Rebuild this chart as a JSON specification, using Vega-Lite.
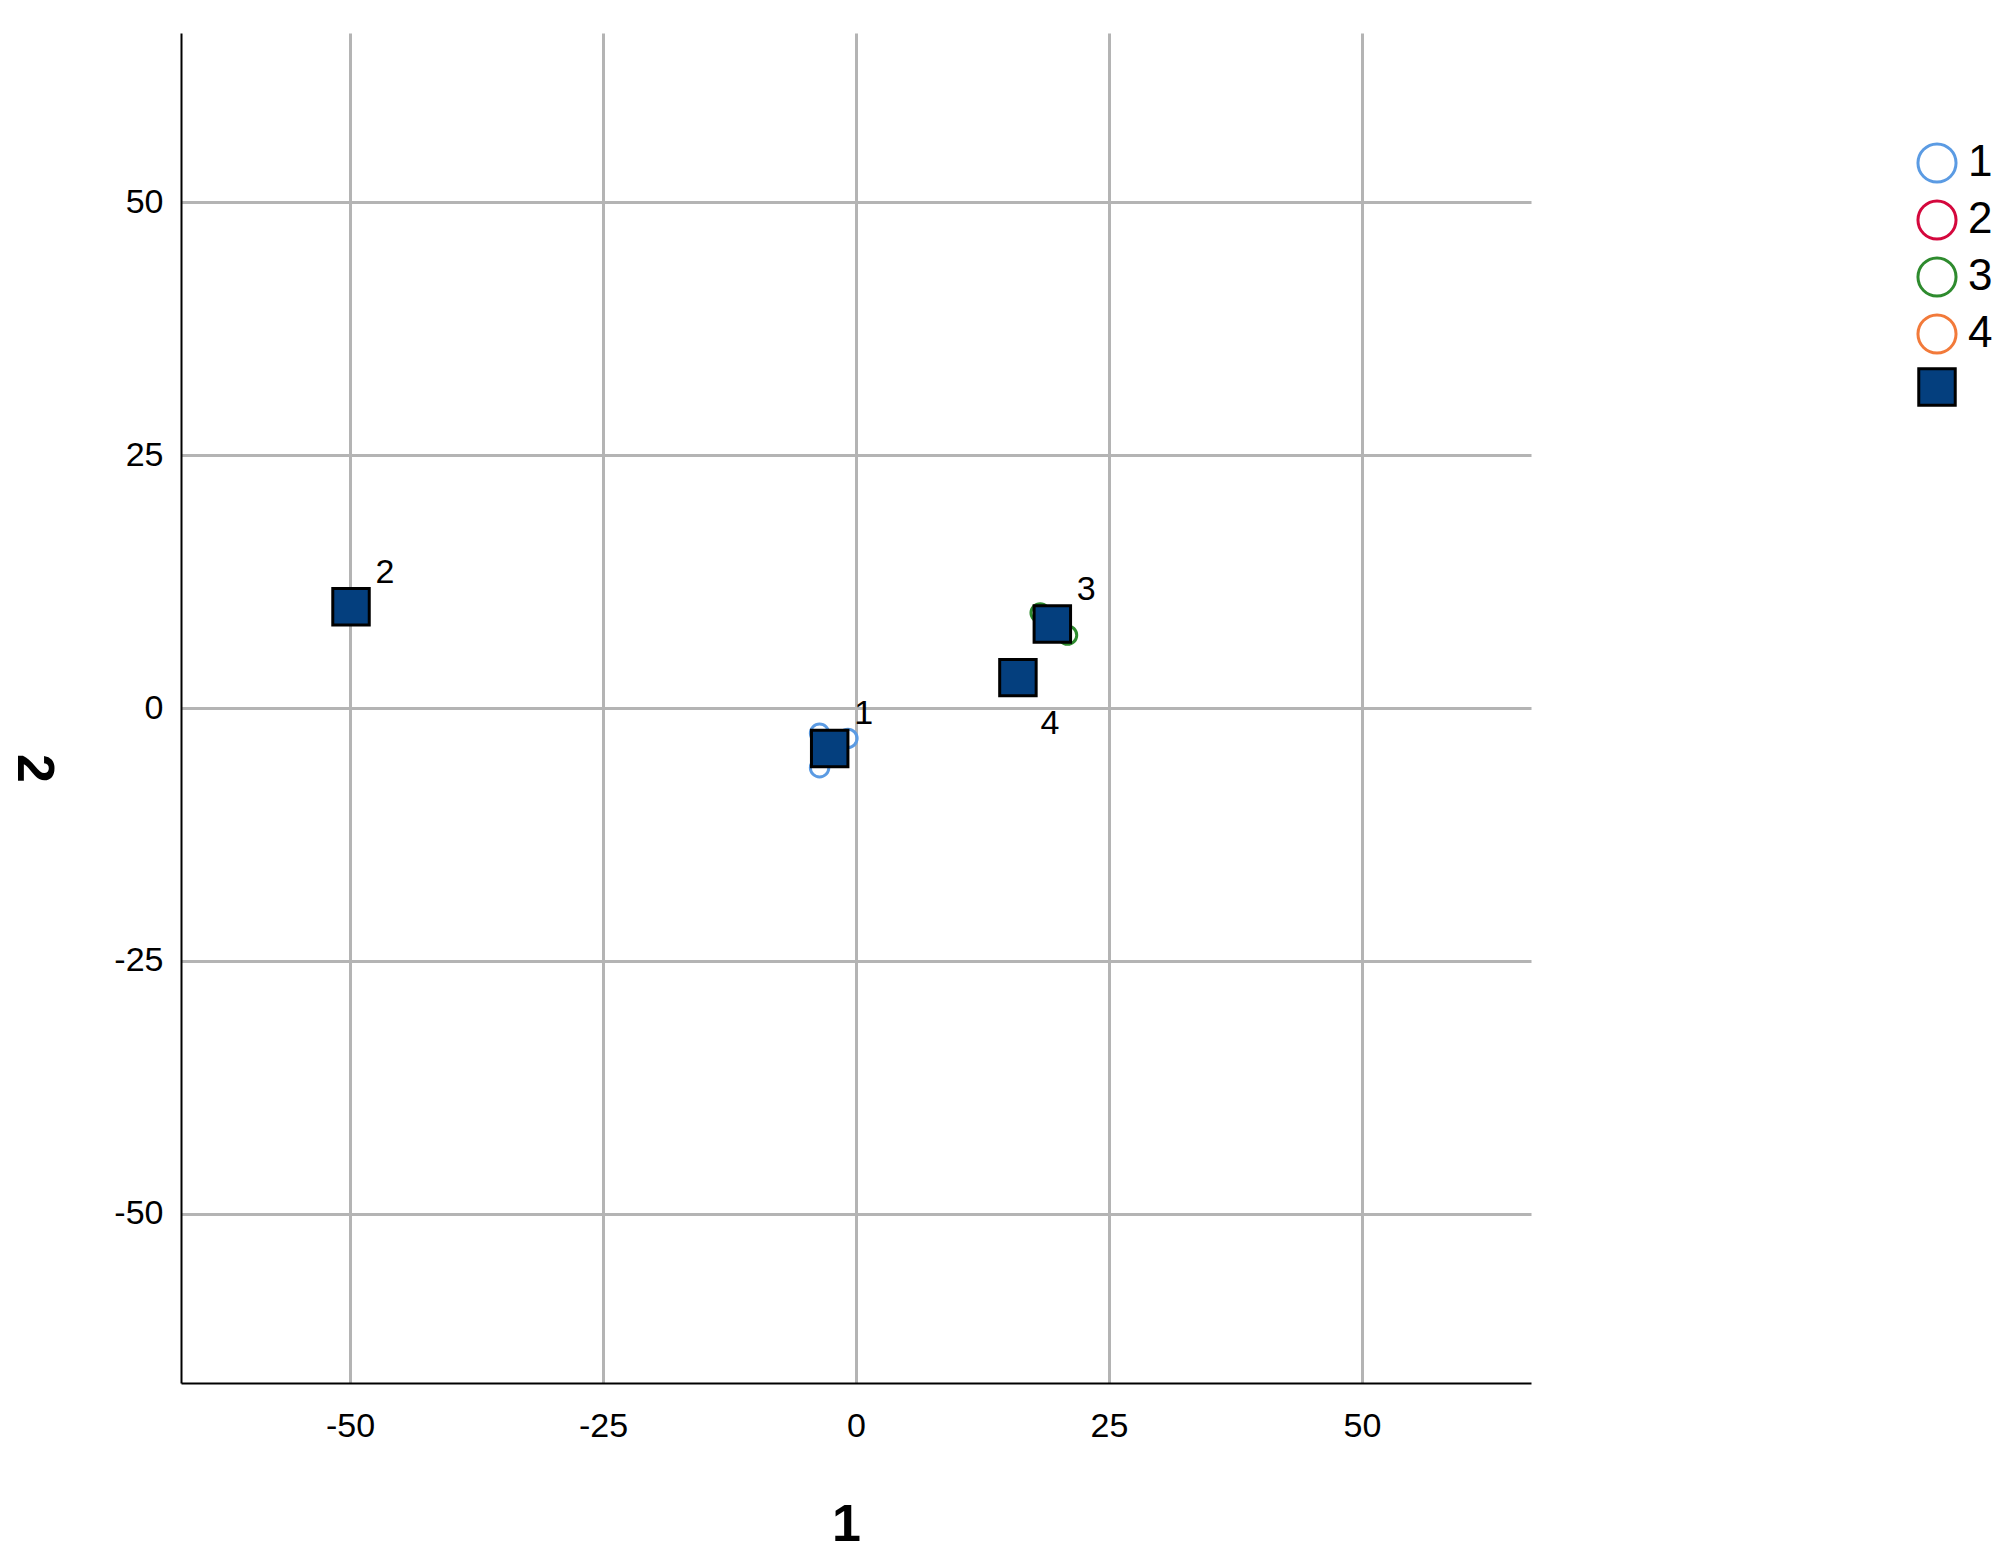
{
  "$schema": "https://vega.github.io/schema/vega-lite/v6.json",
  "width": 1350,
  "height": 1350,
  "autosize": {"type": "none"},
  "padding": {"left": 181, "top": 33, "right": 469, "bottom": 171},
  "background": "white",
  "config": {
    "font": "Liberation Sans",
    "view": {"stroke": null},
    "axis": {
      "grid": true,
      "gridColor": "#b4b4b4",
      "gridWidth": 3,
      "gridOpacity": 1,
      "domainColor": "black",
      "domainWidth": 2,
      "ticks": false,
      "labelFontSize": 34,
      "labelColor": "black",
      "labelFont": "Liberation Sans",
      "titleFont": "Liberation Sans",
      "titleFontSize": 52,
      "titleFontWeight": "bold",
      "titleColor": "black",
      "labelExpr": "toString(datum.value)"
    }
  },
  "datasets": {
    "points": [
      {"cluster": "1", "d1": -3.6, "d2": -2.5},
      {"cluster": "1", "d1": -0.8, "d2": -3.0},
      {"cluster": "1", "d1": -3.6, "d2": -5.9},
      {"cluster": "1", "d1": -2.4, "d2": -4.5},
      {"cluster": "2", "d1": -49.9, "d2": 10.0},
      {"cluster": "3", "d1": 18.2, "d2": 9.4},
      {"cluster": "3", "d1": 20.9, "d2": 7.2},
      {"cluster": "4", "d1": 16.0, "d2": 3.0}
    ],
    "centers": [
      {"cluster": "1", "kind": "center", "d1": -2.6, "d2": -4.0},
      {"cluster": "2", "kind": "center", "d1": -49.9, "d2": 10.0},
      {"cluster": "3", "kind": "center", "d1": 19.4, "d2": 8.3},
      {"cluster": "4", "kind": "center", "d1": 16.0, "d2": 3.0}
    ]
  },
  "layer": [
    {
      "data": {"name": "points"},
      "mark": {"type": "point", "shape": "circle", "filled": false, "size": 340, "strokeWidth": 3, "opacity": 1},
      "encoding": {
        "x": {
          "field": "d1", "type": "quantitative",
          "scale": {"domain": [-66.7, 66.7], "nice": false, "zero": false},
          "axis": {"values": [-50, -25, 0, 25, 50], "title": "1", "labelPadding": 26, "titleX": 665, "titleY": 157, "titleAlign": "center", "titleBaseline": "alphabetic"}
        },
        "y": {
          "field": "d2", "type": "quantitative",
          "scale": {"domain": [-66.7, 66.7], "nice": false, "zero": false},
          "axis": {"values": [-50, -25, 0, 25, 50], "title": "2", "labelPadding": 18, "titleAngle": 90, "titleX": -164, "titleY": 735, "titleAlign": "center", "titleBaseline": "alphabetic"}
        },
        "color": {
          "field": "cluster", "type": "nominal",
          "scale": {"domain": ["1", "2", "3", "4"], "range": ["#5b9be3", "#d4083d", "#2e8b2e", "#f27a3a"]},
          "legend": {
            "title": null, "orient": "none", "legendX": 1734, "legendY": 108,
            "padding": 0, "symbolType": "circle", "symbolSize": 1450, "symbolStrokeWidth": 3,
            "symbolFillColor": "transparent",
            "labelFontSize": 44, "labelColor": "black", "labelOffset": 9, "rowPadding": 5,
            "labelFont": "Liberation Sans"
          }
        }
      }
    },
    {
      "data": {"name": "centers"},
      "mark": {"type": "point", "shape": "square", "filled": true, "size": 1330, "fill": "#043f7e", "strokeWidth": 3, "opacity": 1},
      "encoding": {
        "x": {"field": "d1", "type": "quantitative"},
        "y": {"field": "d2", "type": "quantitative"},
        "stroke": {
          "field": "kind", "type": "nominal",
          "scale": {"domain": ["center"], "range": ["black"]},
          "legend": {
            "title": null, "orient": "none", "legendX": 1734, "legendY": 332,
            "padding": 0, "symbolType": "square", "symbolSize": 1330, "symbolFillColor": "#043f7e",
            "symbolStrokeWidth": 3, "labelExpr": "''", "labelFontSize": 44,
            "encode": {"symbols": {"update": {"fill": {"value": "#043f7e"}, "strokeWidth": {"value": 3}, "opacity": {"value": 1}}}}
          }
        }
      }
    },
    {
      "data": {"name": "centers"},
      "transform": [{"filter": "datum.cluster != '4'"}],
      "mark": {"type": "text", "fontSize": 34, "dx": 34, "dy": -34, "align": "center", "baseline": "middle", "color": "black", "font": "Liberation Sans"},
      "encoding": {
        "x": {"field": "d1", "type": "quantitative"},
        "y": {"field": "d2", "type": "quantitative"},
        "text": {"field": "cluster"}
      }
    },
    {
      "data": {"name": "centers"},
      "transform": [{"filter": "datum.cluster == '4'"}],
      "mark": {"type": "text", "fontSize": 34, "dx": 32, "dy": 46, "align": "center", "baseline": "middle", "color": "black", "font": "Liberation Sans"},
      "encoding": {
        "x": {"field": "d1", "type": "quantitative"},
        "y": {"field": "d2", "type": "quantitative"},
        "text": {"field": "cluster"}
      }
    }
  ]
}
